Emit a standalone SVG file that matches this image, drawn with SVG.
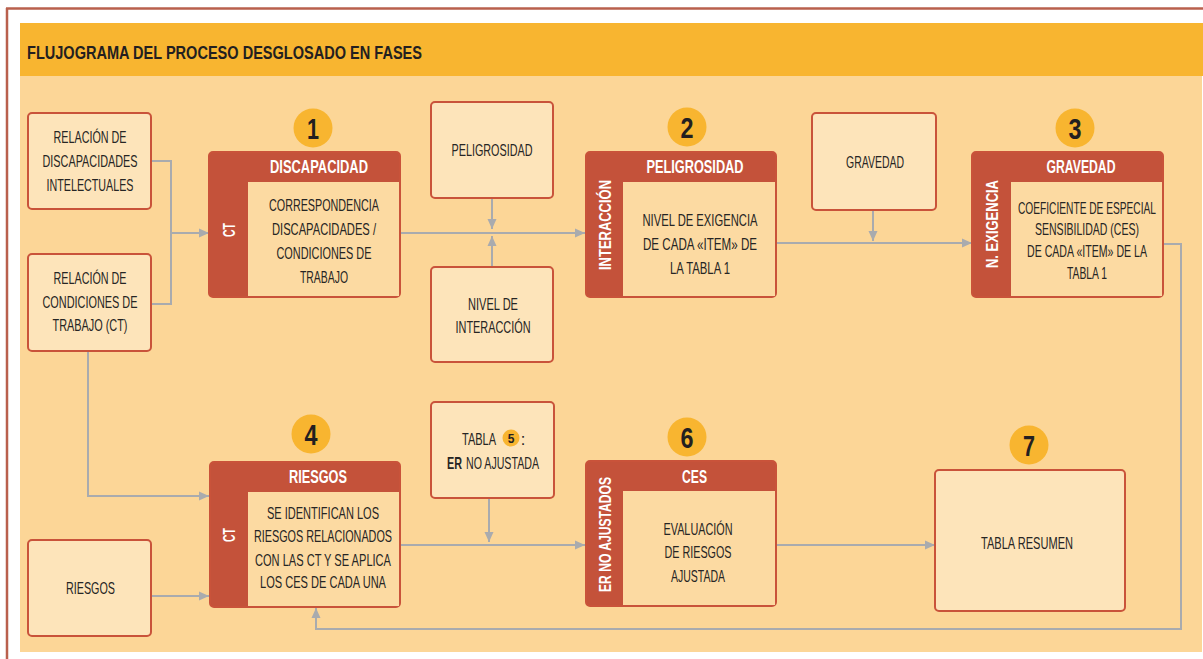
<svg xmlns="http://www.w3.org/2000/svg" width="1203" height="659" viewBox="0 0 1203 659">
<defs>
<style>
.t{font-family:"Liberation Sans Narrow","Liberation Sans",Arial,sans-serif;font-size:16.5px;fill:#262524;text-anchor:middle}
.tb{font-family:"Liberation Sans Narrow","Liberation Sans",Arial,sans-serif;font-size:16.5px;fill:#262524;font-weight:bold}
.ts{font-family:"Liberation Sans Narrow","Liberation Sans",Arial,sans-serif;font-size:16.5px;fill:#262524}
.h{font-family:"Liberation Sans Narrow","Liberation Sans",Arial,sans-serif;font-size:17.5px;font-weight:bold;fill:#ffffff;text-anchor:middle}
.v{font-family:"Liberation Sans Narrow","Liberation Sans",Arial,sans-serif;font-size:17px;font-weight:bold;fill:#ffffff;text-anchor:middle}
.n{font-family:"Liberation Sans Narrow","Liberation Sans",Arial,sans-serif;font-size:29px;font-weight:bold;fill:#231f20;text-anchor:middle}
.title{font-family:"Liberation Sans Narrow","Liberation Sans",Arial,sans-serif;font-size:18px;font-weight:bold;fill:#231f20}
.box{fill:#fde4ba;stroke:#c9533a;stroke-width:2}
.ph{fill:#c4523a;stroke:#c9533a;stroke-width:2}
.in{fill:#fcdaa2}
.dot{fill:#f8b530}
.ln{fill:none;stroke:#a9abae;stroke-width:2}
</style>
<marker id="ar" markerUnits="userSpaceOnUse" markerWidth="11" markerHeight="10" refX="10" refY="5" orient="auto">
<path d="M0,0.5 L10,5 L0,9.5 z" fill="#a9abae"/>
</marker>
</defs>

<g id="frame">
<rect x="0" y="0" width="1203" height="659" fill="#ffffff"/>
<line x1="6" y1="8.5" x2="1203" y2="8.5" stroke="#b9604d" stroke-width="2.5"/>
<line x1="7" y1="8" x2="7" y2="659" stroke="#b9604d" stroke-width="2.5"/>
<rect x="20" y="23" width="1183" height="53" fill="#f8b530"/>
<rect x="20" y="76" width="1182" height="576" fill="#fcd697"/>
<text class="title" x="27" y="59" textLength="395" lengthAdjust="spacingAndGlyphs">FLUJOGRAMA DEL PROCESO DESGLOSADO EN FASES</text>
</g>

<g id="connectors">
<path class="ln" d="M151 161 H171 V304 H151"/>
<path class="ln" d="M171 233 H209" marker-end="url(#ar)"/>
<path class="ln" d="M400 233 H585" marker-end="url(#ar)"/>
<path class="ln" d="M492 198 V229" marker-end="url(#ar)"/>
<path class="ln" d="M492 267 V236" marker-end="url(#ar)"/>
<path class="ln" d="M776 243 H972" marker-end="url(#ar)"/>
<path class="ln" d="M873 210 V241" marker-end="url(#ar)"/>
<path class="ln" d="M1163 244 H1181 V629 H316 V608" marker-end="url(#ar)"/>
<path class="ln" d="M88 351 V496 H209" marker-end="url(#ar)"/>
<path class="ln" d="M151 596 H209" marker-end="url(#ar)"/>
<path class="ln" d="M489 498 V542" marker-end="url(#ar)"/>
<path class="ln" d="M400 545 H585" marker-end="url(#ar)"/>
<path class="ln" d="M776 545 H935" marker-end="url(#ar)"/>
</g>

<g id="rel-discapacidades">
<rect class="box" x="28" y="113" width="123" height="96" rx="4"/>
<text class="t" x="90" y="143" textLength="73" lengthAdjust="spacingAndGlyphs">RELACIÓN DE</text>
<text class="t" x="90" y="167" textLength="95" lengthAdjust="spacingAndGlyphs">DISCAPACIDADES</text>
<text class="t" x="90" y="191" textLength="87" lengthAdjust="spacingAndGlyphs">INTELECTUALES</text>
</g>

<g id="rel-condiciones">
<rect class="box" x="28" y="254" width="123" height="97" rx="4"/>
<text class="t" x="90" y="284" textLength="73" lengthAdjust="spacingAndGlyphs">RELACIÓN DE</text>
<text class="t" x="90" y="308" textLength="95" lengthAdjust="spacingAndGlyphs">CONDICIONES DE</text>
<text class="t" x="90" y="331" textLength="75" lengthAdjust="spacingAndGlyphs">TRABAJO (CT)</text>
</g>

<g id="riesgos-in">
<rect class="box" x="28" y="540" width="123" height="96" rx="4"/>
<text class="t" x="90.5" y="594" textLength="49" lengthAdjust="spacingAndGlyphs">RIESGOS</text>
</g>

<g id="fase1">
<circle class="dot" cx="313" cy="128" r="19.5"/>
<text class="n" x="313" y="139" textLength="12" lengthAdjust="spacingAndGlyphs">1</text>
<rect class="ph" x="209" y="152" width="191" height="145" rx="4"/>
<rect class="in" x="248" y="182" width="151" height="114"/>
<text class="h" x="319" y="172.5" textLength="98" lengthAdjust="spacingAndGlyphs">DISCAPACIDAD</text>
<text class="v" transform="translate(234.5,230) rotate(-90)" x="0" y="0" textLength="14" lengthAdjust="spacingAndGlyphs">CT</text>
<text class="t" x="324" y="211" textLength="110" lengthAdjust="spacingAndGlyphs">CORRESPONDENCIA</text>
<text class="t" x="324" y="235" textLength="104" lengthAdjust="spacingAndGlyphs">DISCAPACIDADES /</text>
<text class="t" x="324" y="259" textLength="95" lengthAdjust="spacingAndGlyphs">CONDICIONES DE</text>
<text class="t" x="324" y="283" textLength="48" lengthAdjust="spacingAndGlyphs">TRABAJO</text>
</g>

<g id="peligrosidad-in">
<rect class="box" x="431" y="102" width="122" height="96" rx="4"/>
<text class="t" x="492" y="156" textLength="81" lengthAdjust="spacingAndGlyphs">PELIGROSIDAD</text>
</g>

<g id="interaccion-in">
<rect class="box" x="431" y="267" width="122" height="95" rx="4"/>
<text class="t" x="493" y="310" textLength="50" lengthAdjust="spacingAndGlyphs">NIVEL DE</text>
<text class="t" x="493" y="333" textLength="75" lengthAdjust="spacingAndGlyphs">INTERACCIÓN</text>
</g>

<g id="fase2">
<circle class="dot" cx="687" cy="127" r="19.5"/>
<text class="n" x="687" y="138" textLength="13" lengthAdjust="spacingAndGlyphs">2</text>
<rect class="ph" x="586" y="152" width="190" height="145" rx="4"/>
<rect class="in" x="623" y="182" width="152" height="114"/>
<text class="h" x="695" y="172.5" textLength="97" lengthAdjust="spacingAndGlyphs">PELIGROSIDAD</text>
<text class="v" transform="translate(611,225) rotate(-90)" x="0" y="0" textLength="90" lengthAdjust="spacingAndGlyphs">INTERACCIÓN</text>
<text class="t" x="700" y="226" textLength="115" lengthAdjust="spacingAndGlyphs">NIVEL DE EXIGENCIA</text>
<text class="t" x="700" y="250" textLength="114" lengthAdjust="spacingAndGlyphs">DE CADA «ITEM» DE</text>
<text class="t" x="700" y="274" textLength="60" lengthAdjust="spacingAndGlyphs">LA TABLA 1</text>
</g>

<g id="gravedad-in">
<rect class="box" x="812" y="113" width="124" height="97" rx="4"/>
<text class="t" x="875" y="168" textLength="58" lengthAdjust="spacingAndGlyphs">GRAVEDAD</text>
</g>

<g id="fase3">
<circle class="dot" cx="1075" cy="128" r="19.5"/>
<text class="n" x="1075" y="139" textLength="13" lengthAdjust="spacingAndGlyphs">3</text>
<rect class="ph" x="972" y="152" width="191" height="145" rx="4"/>
<rect class="in" x="1011" y="182" width="151" height="114"/>
<text class="h" x="1081" y="172.5" textLength="69" lengthAdjust="spacingAndGlyphs">GRAVEDAD</text>
<text class="v" transform="translate(998,224) rotate(-90)" x="0" y="0" textLength="88" lengthAdjust="spacingAndGlyphs">N. EXIGENCIA</text>
<text class="t" x="1087" y="214" textLength="138" lengthAdjust="spacingAndGlyphs">COEFICIENTE DE ESPECIAL</text>
<text class="t" x="1087" y="235" textLength="104" lengthAdjust="spacingAndGlyphs">SENSIBILIDAD (CES)</text>
<text class="t" x="1087" y="257" textLength="120" lengthAdjust="spacingAndGlyphs">DE CADA «ITEM» DE LA</text>
<text class="t" x="1087" y="279" textLength="40" lengthAdjust="spacingAndGlyphs">TABLA 1</text>
</g>

<g id="fase4">
<circle class="dot" cx="311" cy="434" r="19.5"/>
<text class="n" x="311" y="445" textLength="13" lengthAdjust="spacingAndGlyphs">4</text>
<rect class="ph" x="210" y="462" width="190" height="145" rx="4"/>
<rect class="in" x="248" y="492" width="151" height="114"/>
<text class="h" x="318" y="482.5" textLength="58" lengthAdjust="spacingAndGlyphs">RIESGOS</text>
<text class="v" transform="translate(235,535) rotate(-90)" x="0" y="0" textLength="14" lengthAdjust="spacingAndGlyphs">CT</text>
<text class="t" x="323" y="519" textLength="112" lengthAdjust="spacingAndGlyphs">SE IDENTIFICAN LOS</text>
<text class="t" x="323" y="542" textLength="138" lengthAdjust="spacingAndGlyphs">RIESGOS RELACIONADOS</text>
<text class="t" x="323" y="566" textLength="136" lengthAdjust="spacingAndGlyphs">CON LAS CT Y SE APLICA</text>
<text class="t" x="323" y="588" textLength="126" lengthAdjust="spacingAndGlyphs">LOS CES DE CADA UNA</text>
</g>

<g id="tabla5">
<rect class="box" x="431" y="402" width="123" height="96" rx="4"/>
<text class="t" x="479" y="445" textLength="34" lengthAdjust="spacingAndGlyphs">TABLA</text>
<circle class="dot" cx="511" cy="438" r="8.5"/>
<text x="511" y="442.5" style="font-family:'Liberation Sans Narrow','Liberation Sans',Arial,sans-serif;font-size:12px;font-weight:bold;fill:#231f20;text-anchor:middle">5</text>
<text class="t" x="523" y="445">:</text>
<text class="tb" x="447" y="469" textLength="15" lengthAdjust="spacingAndGlyphs">ER</text>
<text class="ts" x="466" y="469" textLength="73" lengthAdjust="spacingAndGlyphs">NO AJUSTADA</text>
</g>

<g id="fase6">
<circle class="dot" cx="687" cy="437" r="19.5"/>
<text class="n" x="687" y="448" textLength="13" lengthAdjust="spacingAndGlyphs">6</text>
<rect class="ph" x="586" y="461" width="190" height="145" rx="4"/>
<rect class="in" x="623" y="491" width="152" height="114"/>
<text class="h" x="694.5" y="482.5" textLength="25" lengthAdjust="spacingAndGlyphs">CES</text>
<text class="v" transform="translate(611,534.5) rotate(-90)" x="0" y="0" textLength="115" lengthAdjust="spacingAndGlyphs">ER NO AJUSTADOS</text>
<text class="t" x="698" y="535" textLength="69" lengthAdjust="spacingAndGlyphs">EVALUACIÓN</text>
<text class="t" x="698" y="558" textLength="67" lengthAdjust="spacingAndGlyphs">DE RIESGOS</text>
<text class="t" x="698" y="582" textLength="54" lengthAdjust="spacingAndGlyphs">AJUSTADA</text>
</g>

<g id="fase7">
<circle class="dot" cx="1029" cy="445" r="19.5"/>
<text class="n" x="1029" y="456" textLength="12" lengthAdjust="spacingAndGlyphs">7</text>
<rect class="box" x="935" y="470" width="190" height="141" rx="4"/>
<text class="t" x="1027" y="549" textLength="92" lengthAdjust="spacingAndGlyphs">TABLA RESUMEN</text>
</g>
</svg>
